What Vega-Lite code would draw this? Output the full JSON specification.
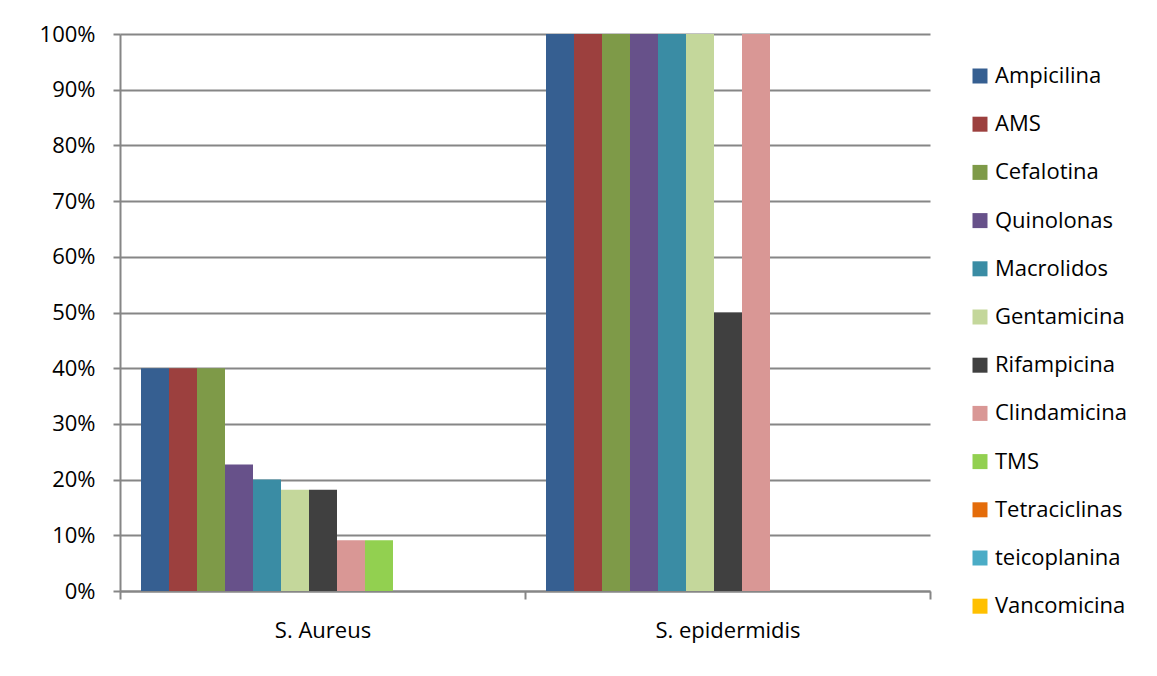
{
  "$schema": "https://vega.github.io/schema/vega-lite/v6.json",
  "width": 810,
  "height": 557,
  "autosize": "none",
  "padding": {"left": 120, "top": 34, "right": 227, "bottom": 85},
  "background": "white",
  "data": {
    "values": [
      {"organismo": "S. Aureus", "antibiotico": "Ampicilina", "valor": 0.40},
      {"organismo": "S. Aureus", "antibiotico": "AMS", "valor": 0.40},
      {"organismo": "S. Aureus", "antibiotico": "Cefalotina", "valor": 0.40},
      {"organismo": "S. Aureus", "antibiotico": "Quinolonas", "valor": 0.227},
      {"organismo": "S. Aureus", "antibiotico": "Macrolidos", "valor": 0.20},
      {"organismo": "S. Aureus", "antibiotico": "Gentamicina", "valor": 0.182},
      {"organismo": "S. Aureus", "antibiotico": "Rifampicina", "valor": 0.182},
      {"organismo": "S. Aureus", "antibiotico": "Clindamicina", "valor": 0.091},
      {"organismo": "S. Aureus", "antibiotico": "TMS", "valor": 0.091},
      {"organismo": "S. Aureus", "antibiotico": "Tetraciclinas", "valor": 0},
      {"organismo": "S. Aureus", "antibiotico": "teicoplanina", "valor": 0},
      {"organismo": "S. Aureus", "antibiotico": "Vancomicina", "valor": 0},
      {"organismo": "S. epidermidis", "antibiotico": "Ampicilina", "valor": 1.0},
      {"organismo": "S. epidermidis", "antibiotico": "AMS", "valor": 1.0},
      {"organismo": "S. epidermidis", "antibiotico": "Cefalotina", "valor": 1.0},
      {"organismo": "S. epidermidis", "antibiotico": "Quinolonas", "valor": 1.0},
      {"organismo": "S. epidermidis", "antibiotico": "Macrolidos", "valor": 1.0},
      {"organismo": "S. epidermidis", "antibiotico": "Gentamicina", "valor": 1.0},
      {"organismo": "S. epidermidis", "antibiotico": "Rifampicina", "valor": 0.5},
      {"organismo": "S. epidermidis", "antibiotico": "Clindamicina", "valor": 1.0},
      {"organismo": "S. epidermidis", "antibiotico": "TMS", "valor": 0},
      {"organismo": "S. epidermidis", "antibiotico": "Tetraciclinas", "valor": 0},
      {"organismo": "S. epidermidis", "antibiotico": "teicoplanina", "valor": 0},
      {"organismo": "S. epidermidis", "antibiotico": "Vancomicina", "valor": 0}
    ]
  },
  "mark": {"type": "bar", "stroke": null},
  "encoding": {
    "x": {
      "field": "organismo",
      "type": "nominal",
      "scale": {"paddingInner": 0, "paddingOuter": 0},
      "axis": {
        "title": null,
        "labelAngle": 0,
        "labelFont": "Open Sans",
        "labelFontSize": 22,
        "labelColor": "#000000",
        "labelPadding": 21,
        "tickBand": "extent",
        "tickSize": 8,
        "tickColor": "#868686",
        "tickWidth": 2,
        "domainColor": "#868686",
        "domainWidth": 2,
        "grid": false
      }
    },
    "xOffset": {
      "field": "antibiotico",
      "type": "nominal",
      "sort": ["Ampicilina", "AMS", "Cefalotina", "Quinolonas", "Macrolidos", "Gentamicina", "Rifampicina", "Clindamicina", "TMS", "Tetraciclinas", "teicoplanina", "Vancomicina"],
      "scale": {"paddingInner": 0, "paddingOuter": 0, "range": [21, 357]}
    },
    "y": {
      "field": "valor",
      "type": "quantitative",
      "scale": {"domain": [0, 1], "nice": false},
      "axis": {
        "title": null,
        "format": ".0%",
        "values": [0, 0.1, 0.2, 0.3, 0.4, 0.5, 0.6, 0.7, 0.8, 0.9, 1.0],
        "labelFont": "Open Sans",
        "labelFontSize": 22,
        "labelColor": "#000000",
        "labelPadding": 18,
        "tickSize": 7,
        "tickColor": "#868686",
        "tickWidth": 2,
        "domainColor": "#868686",
        "domainWidth": 2,
        "grid": true,
        "gridColor": "#868686",
        "gridWidth": 2
      }
    },
    "color": {
      "field": "antibiotico",
      "type": "nominal",
      "sort": ["Ampicilina", "AMS", "Cefalotina", "Quinolonas", "Macrolidos", "Gentamicina", "Rifampicina", "Clindamicina", "TMS", "Tetraciclinas", "teicoplanina", "Vancomicina"],
      "scale": {
        "domain": ["Ampicilina", "AMS", "Cefalotina", "Quinolonas", "Macrolidos", "Gentamicina", "Rifampicina", "Clindamicina", "TMS", "Tetraciclinas", "teicoplanina", "Vancomicina"],
        "range": ["#365F91", "#9C403E", "#7E9A48", "#67518A", "#3A8CA4", "#C4D79B", "#404040", "#D99795", "#92D050", "#E46C0A", "#4BACC6", "#FFC000"]
      },
      "legend": {
        "title": null,
        "orient": "none",
        "legendX": 849,
        "legendY": 31,
        "symbolType": "square",
        "symbolSize": 225,
        "symbolStrokeWidth": 0,
        "symbolOpacity": 1,
        "labelFont": "Open Sans",
        "labelFontSize": 22,
        "labelColor": "#000000",
        "labelOffset": 4,
        "rowPadding": 26.2,
        "labelLimit": 300
      }
    }
  },
  "config": {
    "view": {"stroke": null}
  }
}
